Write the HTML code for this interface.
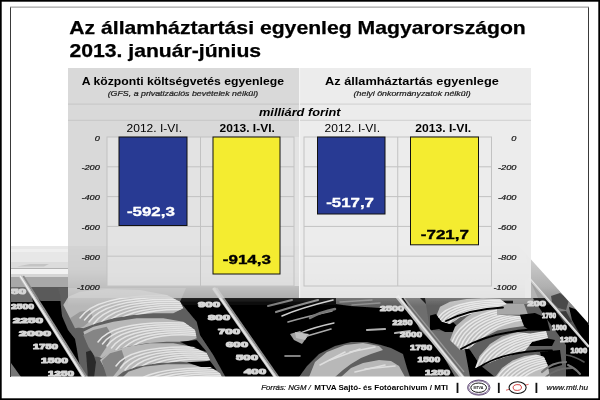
<!DOCTYPE html>
<html><head><meta charset="utf-8"><title>Az államháztartási egyenleg Magyarországon</title>
<style>html,body{margin:0;padding:0;background:#fff;width:600px;height:400px;overflow:hidden}svg{display:block}</style>
</head><body>
<svg width="600" height="400" viewBox="0 0 600 400" font-family="'Liberation Sans', Arial, sans-serif">
<defs>
<filter id="bl" x="0" y="0" width="600" height="400" filterUnits="userSpaceOnUse"><feGaussianBlur stdDeviation="0.45"/></filter>
<clipPath id="pc"><polygon points="10,246 519,246 589,324 589,376.6 10,376.6"/></clipPath>
<linearGradient id="fade" gradientUnits="userSpaceOnUse" x1="0" y1="240" x2="0" y2="306"><stop offset="0" stop-color="#fff" stop-opacity="0.9"/><stop offset="0.45" stop-color="#fff" stop-opacity="0.8"/><stop offset="0.68" stop-color="#fff" stop-opacity="0.55"/><stop offset="0.88" stop-color="#fff" stop-opacity="0.15"/><stop offset="1" stop-color="#fff" stop-opacity="0"/></linearGradient>
<linearGradient id="fr" gradientUnits="userSpaceOnUse" x1="0" y1="262" x2="0" y2="345"><stop offset="0" stop-color="#cacaca"/><stop offset="0.3" stop-color="#b0b0b0"/><stop offset="0.5" stop-color="#8e8e8e"/><stop offset="0.75" stop-color="#555"/><stop offset="1" stop-color="#222"/></linearGradient>
</defs>
<rect width="600" height="400" fill="#fff"/>
<g clip-path="url(#pc)"><g filter="url(#bl)">
<rect x="10" y="240" width="580" height="138" fill="#000"/>
<rect x="10" y="246" width="58" height="16" fill="#e7e7e7"/>
<rect x="10" y="249" width="58" height="3" fill="#efefef"/>
<rect x="10" y="262" width="58" height="6.5" fill="#dcdcdc"/>
<path d="M17,266.6 L30,264 L49,264 L44,266.6 Z" fill="#c4c4c4"/>
<rect x="10" y="268.5" width="58" height="5.5" fill="#f3f3f3"/>
<rect x="10" y="274" width="58" height="3" fill="#d6d6d6"/>
<rect x="10" y="277" width="58" height="10" fill="#a8a8a8"/>
<polygon points="10.0,287.0 30.0,287.0 33.0,302.0 10.0,302.0" fill="#6c6c6c"/>
<polygon points="30.0,287.0 68.0,287.0 68.0,302.0 42.0,302.0 35.0,296.0" fill="#5a5a5a"/>
<polygon points="40.0,301.0 68.0,301.0 68.0,306.0 44.0,306.0" fill="#000"/>
<polygon points="11.0,363.0 21.0,377.0 11.0,377.0" fill="#777"/>
<polygon points="58.0,288.0 60.0,295.0 61.0,307.0 62.0,316.0 68.0,330.0 75.0,339.0 77.0,350.0 79.0,362.0 84.0,378.0 226.0,378.0 213.3,355.0 200.0,335.0 196.7,321.7 180.0,301.7 186.0,288.0" fill="#5e5e5e"/>
<polygon points="86.0,352.0 92.0,350.0 96.0,362.0 94.0,378.0 88.0,378.0" fill="#2a2a2a"/>
<polygon points="63.3,305.0 68.3,296.7 80.0,291.7 106.7,289.0 140.0,290.0 166.7,295.0 180.0,301.7 183.3,308.3 173.3,313.3 153.3,313.3 133.3,315.0 113.3,318.3 96.7,323.3 83.3,328.3 76.7,326.7 70.0,318.3" fill="#b8b8b8"/>
<clipPath id="cl1"><polygon points="63.3,305.0 68.3,296.7 80.0,291.7 106.7,289.0 140.0,290.0 166.7,295.0 180.0,301.7 183.3,308.3 173.3,313.3 153.3,313.3 133.3,315.0 113.3,318.3 96.7,323.3 83.3,328.3 76.7,326.7 70.0,318.3"/></clipPath>
<polygon points="83.3,331.7 93.3,326.7 113.3,321.7 136.7,318.3 163.3,318.3 183.3,321.7 195.0,330.0 196.7,338.3 186.7,341.7 166.7,341.7 146.7,343.3 126.7,346.7 111.7,351.7 101.7,358.3 95.0,355.0 86.7,341.7" fill="#b8b8b8"/>
<clipPath id="cl2"><polygon points="83.3,331.7 93.3,326.7 113.3,321.7 136.7,318.3 163.3,318.3 183.3,321.7 195.0,330.0 196.7,338.3 186.7,341.7 166.7,341.7 146.7,343.3 126.7,346.7 111.7,351.7 101.7,358.3 95.0,355.0 86.7,341.7"/></clipPath>
<polygon points="100.0,360.0 110.0,351.7 126.7,346.7 150.0,343.3 173.3,343.3 193.3,346.7 206.7,353.3 210.0,360.0 200.0,363.3 180.0,361.7 156.7,363.3 136.7,366.7 123.3,371.7 115.0,378.3 108.3,375.0" fill="#b8b8b8"/>
<clipPath id="cl3"><polygon points="100.0,360.0 110.0,351.7 126.7,346.7 150.0,343.3 173.3,343.3 193.3,346.7 206.7,353.3 210.0,360.0 200.0,363.3 180.0,361.7 156.7,363.3 136.7,366.7 123.3,371.7 115.0,378.3 108.3,375.0"/></clipPath>
<polygon points="120.0,380.0 128.3,371.7 143.3,366.7 166.7,364.3 190.0,364.3 210.0,366.7 220.0,373.3 223.3,380.0" fill="#b8b8b8"/>
<clipPath id="cl4"><polygon points="120.0,380.0 128.3,371.7 143.3,366.7 166.7,364.3 190.0,364.3 210.0,366.7 220.0,373.3 223.3,380.0"/></clipPath>
<polygon points="180.0,341.7 196.7,340.0 206.7,351.7 193.3,348.3" fill="#000"/>
<polygon points="186.7,362.3 210.0,361.0 216.7,370.0 200.0,366.7" fill="#000"/>
<polygon points="83.3,335.0 93.3,330.0 106.7,326.7 111.7,335.0 106.7,346.7 100.0,356.7 95.0,356.7 88.3,346.7" fill="#858585"/>
<polygon points="101.7,361.0 110.0,353.3 121.7,350.0 125.0,360.0 118.3,370.0 111.7,378.3 106.7,376.7" fill="#858585"/>
<polygon points="70.0,318.3 80.0,311.7 90.0,310.0 93.3,318.3 83.3,326.7 75.0,328.3" fill="#9a9a9a"/>
<g clip-path="url(#cl1)"><path d="M80.0,318.0 Q98.0,292.0 185.0,296.0" fill="none" stroke="#e4e4e4" stroke-width="1.5" stroke-linecap="round"/><path d="M84.5,320.0 Q102.5,294.0 186.3,298.0" fill="none" stroke="#e4e4e4" stroke-width="1.5" stroke-linecap="round"/><path d="M89.0,322.0 Q107.0,296.0 187.7,300.0" fill="none" stroke="#e4e4e4" stroke-width="1.5" stroke-linecap="round"/><path d="M93.5,324.0 Q111.5,298.0 189.1,302.0" fill="none" stroke="#e4e4e4" stroke-width="1.5" stroke-linecap="round"/><path d="M98.0,326.0 Q116.0,300.0 190.4,304.0" fill="none" stroke="#e4e4e4" stroke-width="1.5" stroke-linecap="round"/><path d="M102.5,328.0 Q120.5,302.0 191.8,306.0" fill="none" stroke="#e4e4e4" stroke-width="1.5" stroke-linecap="round"/><path d="M107.0,330.0 Q125.0,304.0 193.1,308.0" fill="none" stroke="#e4e4e4" stroke-width="1.5" stroke-linecap="round"/><path d="M111.5,332.0 Q129.5,306.0 194.4,310.0" fill="none" stroke="#e4e4e4" stroke-width="1.5" stroke-linecap="round"/></g>
<g clip-path="url(#cl2)"><path d="M98.0,342.0 Q115.0,318.0 198.0,324.0" fill="none" stroke="#e4e4e4" stroke-width="1.5" stroke-linecap="round"/><path d="M102.5,344.0 Q119.5,320.0 199.3,326.0" fill="none" stroke="#e4e4e4" stroke-width="1.5" stroke-linecap="round"/><path d="M107.0,346.0 Q124.0,322.0 200.7,328.0" fill="none" stroke="#e4e4e4" stroke-width="1.5" stroke-linecap="round"/><path d="M111.5,348.0 Q128.5,324.0 202.1,330.0" fill="none" stroke="#e4e4e4" stroke-width="1.5" stroke-linecap="round"/><path d="M116.0,350.0 Q133.0,326.0 203.4,332.0" fill="none" stroke="#e4e4e4" stroke-width="1.5" stroke-linecap="round"/><path d="M120.5,352.0 Q137.5,328.0 204.8,334.0" fill="none" stroke="#e4e4e4" stroke-width="1.5" stroke-linecap="round"/><path d="M125.0,354.0 Q142.0,330.0 206.1,336.0" fill="none" stroke="#e4e4e4" stroke-width="1.5" stroke-linecap="round"/></g>
<g clip-path="url(#cl3)"><path d="M116.0,366.0 Q132.0,343.0 212.0,348.0" fill="none" stroke="#e4e4e4" stroke-width="1.5" stroke-linecap="round"/><path d="M120.5,368.0 Q136.5,345.0 213.3,350.0" fill="none" stroke="#e4e4e4" stroke-width="1.5" stroke-linecap="round"/><path d="M125.0,370.0 Q141.0,347.0 214.7,352.0" fill="none" stroke="#e4e4e4" stroke-width="1.5" stroke-linecap="round"/><path d="M129.5,372.0 Q145.5,349.0 216.1,354.0" fill="none" stroke="#e4e4e4" stroke-width="1.5" stroke-linecap="round"/><path d="M134.0,374.0 Q150.0,351.0 217.4,356.0" fill="none" stroke="#e4e4e4" stroke-width="1.5" stroke-linecap="round"/><path d="M138.5,376.0 Q154.5,353.0 218.8,358.0" fill="none" stroke="#e4e4e4" stroke-width="1.5" stroke-linecap="round"/><path d="M143.0,378.0 Q159.0,355.0 220.1,360.0" fill="none" stroke="#e4e4e4" stroke-width="1.5" stroke-linecap="round"/></g>
<g clip-path="url(#cl4)"><path d="M134.0,384.0 Q150.0,366.0 225.0,368.0" fill="none" stroke="#e4e4e4" stroke-width="1.5" stroke-linecap="round"/><path d="M138.5,386.0 Q154.5,368.0 226.3,370.0" fill="none" stroke="#e4e4e4" stroke-width="1.5" stroke-linecap="round"/><path d="M143.0,388.0 Q159.0,370.0 227.7,372.0" fill="none" stroke="#e4e4e4" stroke-width="1.5" stroke-linecap="round"/><path d="M147.5,390.0 Q163.5,372.0 229.1,374.0" fill="none" stroke="#e4e4e4" stroke-width="1.5" stroke-linecap="round"/><path d="M152.0,392.0 Q168.0,374.0 230.4,376.0" fill="none" stroke="#e4e4e4" stroke-width="1.5" stroke-linecap="round"/></g>
<text x="11" y="309" font-size="8.0" font-weight="bold" fill="#d6d6d6" stroke="#d6d6d6" stroke-width="1.1" stroke-linejoin="round" textLength="23" lengthAdjust="spacingAndGlyphs">2500</text>
<text x="13" y="323" font-size="8.0" font-weight="bold" fill="#d6d6d6" stroke="#d6d6d6" stroke-width="1.1" stroke-linejoin="round" textLength="30" lengthAdjust="spacingAndGlyphs">2250</text>
<text x="19" y="336" font-size="8.0" font-weight="bold" fill="#d6d6d6" stroke="#d6d6d6" stroke-width="1.1" stroke-linejoin="round" textLength="32" lengthAdjust="spacingAndGlyphs">2000</text>
<text x="33" y="349" font-size="8.0" font-weight="bold" fill="#d6d6d6" stroke="#d6d6d6" stroke-width="1.1" stroke-linejoin="round" textLength="25" lengthAdjust="spacingAndGlyphs">1750</text>
<text x="41" y="362.5" font-size="8.0" font-weight="bold" fill="#d6d6d6" stroke="#d6d6d6" stroke-width="1.1" stroke-linejoin="round" textLength="27" lengthAdjust="spacingAndGlyphs">1500</text>
<text x="48" y="375.6" font-size="8.0" font-weight="bold" fill="#d6d6d6" stroke="#d6d6d6" stroke-width="1.1" stroke-linejoin="round" textLength="26" lengthAdjust="spacingAndGlyphs">1250</text>
<text x="11" y="294" font-size="8.0" font-weight="bold" fill="#d6d6d6" stroke="#d6d6d6" stroke-width="1.1" stroke-linejoin="round" textLength="15" lengthAdjust="spacingAndGlyphs">50</text>
<line x1="20.5" y1="276" x2="84" y2="377" stroke="#c4c4c4" stroke-width="3.6"/>
<line x1="23.3" y1="276" x2="86.8" y2="377" stroke="#8a8a8a" stroke-width="1.6"/>
<line x1="20.1" y1="276" x2="83.6" y2="377" stroke="#f0f0f0" stroke-width="1.4"/>
<text x="198" y="307" font-size="8.0" font-weight="bold" fill="#d6d6d6" stroke="#d6d6d6" stroke-width="1.1" stroke-linejoin="round" textLength="22" lengthAdjust="spacingAndGlyphs">900</text>
<text x="208" y="320" font-size="8.0" font-weight="bold" fill="#d6d6d6" stroke="#d6d6d6" stroke-width="1.1" stroke-linejoin="round" textLength="22" lengthAdjust="spacingAndGlyphs">800</text>
<text x="218" y="334" font-size="8.0" font-weight="bold" fill="#d6d6d6" stroke="#d6d6d6" stroke-width="1.1" stroke-linejoin="round" textLength="22" lengthAdjust="spacingAndGlyphs">700</text>
<text x="226" y="347" font-size="8.0" font-weight="bold" fill="#d6d6d6" stroke="#d6d6d6" stroke-width="1.1" stroke-linejoin="round" textLength="22" lengthAdjust="spacingAndGlyphs">600</text>
<text x="236" y="360" font-size="8.0" font-weight="bold" fill="#d6d6d6" stroke="#d6d6d6" stroke-width="1.1" stroke-linejoin="round" textLength="22" lengthAdjust="spacingAndGlyphs">500</text>
<text x="244" y="374" font-size="8.0" font-weight="bold" fill="#d6d6d6" stroke="#d6d6d6" stroke-width="1.1" stroke-linejoin="round" textLength="22" lengthAdjust="spacingAndGlyphs">400</text>
<line x1="213.6" y1="288" x2="276.3" y2="378" stroke="#c2c2c2" stroke-width="3.6"/>
<line x1="216.4" y1="288" x2="279.1" y2="378" stroke="#8a8a8a" stroke-width="1.6"/>
<line x1="213.2" y1="288" x2="275.9" y2="378" stroke="#e6e6e6" stroke-width="1.4"/>
<path d="M282,316 Q300,308 333,300" fill="none" stroke="#d0d0d0" stroke-width="1.6" stroke-linecap="round"/>
<path d="M276,312 Q295,306 318,300" fill="none" stroke="#8a8a8a" stroke-width="2.2" stroke-linecap="round"/>
<path d="M288,322 Q305,317 332,311" fill="none" stroke="#9a9a9a" stroke-width="1.6" stroke-linecap="round"/>
<path d="M300,333 Q315,327 334,323" fill="none" stroke="#c8c8c8" stroke-width="1.3" stroke-linecap="round"/>
<path d="M268,306 Q280,303 292,300" fill="none" stroke="#7a7a7a" stroke-width="2.0" stroke-linecap="round"/>
<path d="M310,318 Q320,312 335,309" fill="none" stroke="#777" stroke-width="2.5" stroke-linecap="round"/>
<polygon points="290.0,334.0 300.0,331.0 307.0,337.0 302.0,344.0 294.0,340.0" fill="#a0a0a0"/>
<polygon points="295.0,332.0 309.0,334.0 305.0,340.0 296.0,338.0" fill="#c0c0c0"/>
<line x1="307" y1="336" x2="331" y2="329" stroke="#aaa" stroke-width="1.6" stroke-linecap="round"/>
<line x1="285" y1="356" x2="300" y2="356" stroke="#aaa" stroke-width="1.6" stroke-linecap="round"/>
<polygon points="299.0,377.0 307.0,366.0 319.0,354.0 335.0,346.0 351.0,342.0 367.0,342.0 381.0,345.0 391.0,348.0 403.0,354.0 407.0,368.0 410.0,377.0" fill="#5e5e5e"/>
<polygon points="309.0,377.0 315.0,362.0 327.0,352.0 345.0,345.0 363.0,343.0 379.0,346.0 383.0,350.0 371.0,354.0 361.0,358.0 351.0,364.0 343.0,370.0 335.0,377.0" fill="#b8b8b8"/>
<polygon points="341.0,377.0 351.0,368.0 363.0,363.0 379.0,360.0 391.0,361.0 399.0,366.0 405.0,377.0" fill="#b8b8b8"/>
<line x1="320" y1="365" x2="345" y2="352" stroke="#dedede" stroke-width="1.6" stroke-linecap="round"/>
<line x1="330" y1="360" x2="360" y2="349" stroke="#dedede" stroke-width="1.6" stroke-linecap="round"/>
<line x1="350" y1="352" x2="375" y2="347" stroke="#dedede" stroke-width="1.6" stroke-linecap="round"/>
<line x1="355" y1="372" x2="385" y2="365" stroke="#dedede" stroke-width="1.6" stroke-linecap="round"/>
<line x1="365" y1="369" x2="395" y2="366" stroke="#dedede" stroke-width="1.6" stroke-linecap="round"/>
<polygon points="336.0,298.0 402.0,298.0 402.0,307.0 380.0,308.0 350.0,306.0 336.0,304.0" fill="#5e5e5e"/>
<line x1="340" y1="302" x2="372" y2="300" stroke="#8c8c8c" stroke-width="1.4" stroke-linecap="round"/>
<line x1="352" y1="305" x2="380" y2="303" stroke="#8c8c8c" stroke-width="1.4" stroke-linecap="round"/>
<line x1="367" y1="330" x2="385" y2="329" stroke="#b0b0b0" stroke-width="2.2" stroke-linecap="round"/>
<line x1="395" y1="333" x2="410" y2="331" stroke="#b0b0b0" stroke-width="2.2" stroke-linecap="round"/>
<text x="380" y="311" font-size="8.0" font-weight="bold" fill="#d6d6d6" stroke="#d6d6d6" stroke-width="1.1" stroke-linejoin="round" textLength="24" lengthAdjust="spacingAndGlyphs">2500</text>
<text x="392.5" y="325" font-size="8.0" font-weight="bold" fill="#d6d6d6" stroke="#d6d6d6" stroke-width="1.1" stroke-linejoin="round" textLength="20.0" lengthAdjust="spacingAndGlyphs">2250</text>
<text x="400" y="337" font-size="8.0" font-weight="bold" fill="#d6d6d6" stroke="#d6d6d6" stroke-width="1.1" stroke-linejoin="round" textLength="22" lengthAdjust="spacingAndGlyphs">2000</text>
<text x="410" y="349.5" font-size="8.0" font-weight="bold" fill="#d6d6d6" stroke="#d6d6d6" stroke-width="1.1" stroke-linejoin="round" textLength="22" lengthAdjust="spacingAndGlyphs">1750</text>
<text x="417.5" y="362" font-size="8.0" font-weight="bold" fill="#d6d6d6" stroke="#d6d6d6" stroke-width="1.1" stroke-linejoin="round" textLength="22.5" lengthAdjust="spacingAndGlyphs">1500</text>
<text x="425" y="374.5" font-size="8.0" font-weight="bold" fill="#d6d6d6" stroke="#d6d6d6" stroke-width="1.1" stroke-linejoin="round" textLength="25" lengthAdjust="spacingAndGlyphs">1250</text>
<polygon points="404.0,298.0 420.0,298.0 436.0,314.0 455.0,330.0 465.0,350.0 470.0,377.0 455.0,377.0 440.0,350.0 420.0,330.0" fill="#6e6e6e"/>
<polygon points="425.0,298.0 533.0,298.0 546.0,318.0 566.0,345.0 566.0,377.0 495.0,377.0 480.0,365.0 470.0,350.0 452.0,332.0 430.0,330.0" fill="#5e5e5e"/>
<polygon points="480.0,298.5 533.0,298.5 533.0,304.0 480.0,304.0" fill="#8a8a8a"/>
<polygon points="500.0,300.7 513.0,300.7 513.0,303.3 500.0,303.3" fill="#000"/>
<polygon points="497.0,304.0 524.0,304.0 528.0,314.7 497.0,314.7" fill="#a8a8a8"/>
<polygon points="430.0,315.5 436.0,314.0 442.0,321.5 451.0,320.0 457.0,326.0 452.5,332.0 445.0,332.0 439.0,329.0 430.0,330.5" fill="#000"/>
<polygon points="520.0,314.7 535.0,313.0 546.7,318.0 550.0,330.7 530.0,330.7 522.0,325.0" fill="#000"/>
<polygon points="520.0,338.7 540.0,337.0 555.0,340.0 552.0,346.0 530.0,346.0" fill="#000"/>
<polygon points="540.0,352.0 560.0,350.0 562.0,365.0 545.0,370.0" fill="#000"/>
<polygon points="566.0,353.0 590.0,353.0 590.0,378.0 566.0,378.0" fill="#000"/>
<polygon points="436.7,315.0 440.0,306.7 450.0,301.7 466.7,299.0 483.3,298.3 500.0,299.0 506.7,304.0 493.3,309.0 476.7,312.3 460.0,317.3 450.0,324.0 441.7,321.7" fill="#bdbdbd"/>
<clipPath id="cr1"><polygon points="436.7,315.0 440.0,306.7 450.0,301.7 466.7,299.0 483.3,298.3 500.0,299.0 506.7,304.0 493.3,309.0 476.7,312.3 460.0,317.3 450.0,324.0 441.7,321.7"/></clipPath>
<polygon points="450.0,340.0 455.0,326.7 466.7,316.7 480.0,309.0 497.0,304.0 497.0,314.7 520.0,316.0 524.0,326.0 510.0,328.0 497.5,330.5 482.5,338.0 469.0,348.5 460.0,350.0" fill="#bdbdbd"/>
<clipPath id="cr2"><polygon points="450.0,340.0 455.0,326.7 466.7,316.7 480.0,309.0 497.0,304.0 497.0,314.7 520.0,316.0 524.0,326.0 510.0,328.0 497.5,330.5 482.5,338.0 469.0,348.5 460.0,350.0"/></clipPath>
<polygon points="475.0,368.0 479.5,356.0 490.0,344.0 502.0,336.5 517.0,332.0 530.5,333.5 546.0,331.0 548.0,338.0 532.0,342.0 524.5,351.5 514.0,354.5 499.0,359.0 484.0,365.0" fill="#bdbdbd"/>
<clipPath id="cr3"><polygon points="475.0,368.0 479.5,356.0 490.0,344.0 502.0,336.5 517.0,332.0 530.5,333.5 546.0,331.0 548.0,338.0 532.0,342.0 524.5,351.5 514.0,354.5 499.0,359.0 484.0,365.0"/></clipPath>
<polygon points="494.5,378.0 502.0,368.0 512.5,360.5 524.5,356.0 536.0,354.5 544.0,357.0 548.0,366.0 550.0,378.0" fill="#bdbdbd"/>
<clipPath id="cr4"><polygon points="494.5,378.0 502.0,368.0 512.5,360.5 524.5,356.0 536.0,354.5 544.0,357.0 548.0,366.0 550.0,378.0"/></clipPath>
<g clip-path="url(#cr1)"><path d="M438.0,318.0 Q450.0,300.0 505.0,300.0" fill="none" stroke="#e8e8e8" stroke-width="1.5" stroke-linecap="round"/><path d="M440.4,319.7 Q452.4,301.7 506.0,301.7" fill="none" stroke="#e8e8e8" stroke-width="1.5" stroke-linecap="round"/><path d="M442.8,321.4 Q454.8,303.4 506.9,303.4" fill="none" stroke="#e8e8e8" stroke-width="1.5" stroke-linecap="round"/><path d="M445.2,323.1 Q457.2,305.1 507.9,305.1" fill="none" stroke="#e8e8e8" stroke-width="1.5" stroke-linecap="round"/><path d="M447.6,324.8 Q459.6,306.8 508.8,306.8" fill="none" stroke="#e8e8e8" stroke-width="1.5" stroke-linecap="round"/><path d="M450.0,326.5 Q462.0,308.5 509.8,308.5" fill="none" stroke="#e8e8e8" stroke-width="1.5" stroke-linecap="round"/></g>
<g clip-path="url(#cr2)"><path d="M452.0,342.0 Q464.0,310.0 525.0,306.0" fill="none" stroke="#e8e8e8" stroke-width="1.5" stroke-linecap="round"/><path d="M454.8,343.8 Q466.8,311.8 526.1,307.8" fill="none" stroke="#e8e8e8" stroke-width="1.5" stroke-linecap="round"/><path d="M457.6,345.6 Q469.6,313.6 527.2,309.6" fill="none" stroke="#e8e8e8" stroke-width="1.5" stroke-linecap="round"/><path d="M460.4,347.4 Q472.4,315.4 528.4,311.4" fill="none" stroke="#e8e8e8" stroke-width="1.5" stroke-linecap="round"/><path d="M463.2,349.2 Q475.2,317.2 529.5,313.2" fill="none" stroke="#e8e8e8" stroke-width="1.5" stroke-linecap="round"/><path d="M466.0,351.0 Q478.0,319.0 530.6,315.0" fill="none" stroke="#e8e8e8" stroke-width="1.5" stroke-linecap="round"/><path d="M468.8,352.8 Q480.8,320.8 531.7,316.8" fill="none" stroke="#e8e8e8" stroke-width="1.5" stroke-linecap="round"/><path d="M471.6,354.6 Q483.6,322.6 532.8,318.6" fill="none" stroke="#e8e8e8" stroke-width="1.5" stroke-linecap="round"/></g>
<g clip-path="url(#cr3)"><path d="M476.0,368.0 Q487.0,336.0 546.0,330.0" fill="none" stroke="#e8e8e8" stroke-width="1.5" stroke-linecap="round"/><path d="M478.8,369.8 Q489.8,337.8 547.1,331.8" fill="none" stroke="#e8e8e8" stroke-width="1.5" stroke-linecap="round"/><path d="M481.6,371.6 Q492.6,339.6 548.2,333.6" fill="none" stroke="#e8e8e8" stroke-width="1.5" stroke-linecap="round"/><path d="M484.4,373.4 Q495.4,341.4 549.4,335.4" fill="none" stroke="#e8e8e8" stroke-width="1.5" stroke-linecap="round"/><path d="M487.2,375.2 Q498.2,343.2 550.5,337.2" fill="none" stroke="#e8e8e8" stroke-width="1.5" stroke-linecap="round"/><path d="M490.0,377.0 Q501.0,345.0 551.6,339.0" fill="none" stroke="#e8e8e8" stroke-width="1.5" stroke-linecap="round"/><path d="M492.8,378.8 Q503.8,346.8 552.7,340.8" fill="none" stroke="#e8e8e8" stroke-width="1.5" stroke-linecap="round"/><path d="M495.6,380.6 Q506.6,348.6 553.8,342.6" fill="none" stroke="#e8e8e8" stroke-width="1.5" stroke-linecap="round"/></g>
<g clip-path="url(#cr4)"><path d="M496.0,380.0 Q508.0,356.0 558.0,353.0" fill="none" stroke="#e8e8e8" stroke-width="1.5" stroke-linecap="round"/><path d="M498.8,381.8 Q510.8,357.8 559.1,354.8" fill="none" stroke="#e8e8e8" stroke-width="1.5" stroke-linecap="round"/><path d="M501.6,383.6 Q513.6,359.6 560.2,356.6" fill="none" stroke="#e8e8e8" stroke-width="1.5" stroke-linecap="round"/><path d="M504.4,385.4 Q516.4,361.4 561.4,358.4" fill="none" stroke="#e8e8e8" stroke-width="1.5" stroke-linecap="round"/><path d="M507.2,387.2 Q519.2,363.2 562.5,360.2" fill="none" stroke="#e8e8e8" stroke-width="1.5" stroke-linecap="round"/><path d="M510.0,389.0 Q522.0,365.0 563.6,362.0" fill="none" stroke="#e8e8e8" stroke-width="1.5" stroke-linecap="round"/><path d="M512.8,390.8 Q524.8,366.8 564.7,363.8" fill="none" stroke="#e8e8e8" stroke-width="1.5" stroke-linecap="round"/></g>
<path d="M542,372 Q552,362 566,362" fill="none" stroke="#7a7a7a" stroke-width="2.2" stroke-linecap="round"/>
<path d="M546,377 Q556,368 572,368" fill="none" stroke="#6a6a6a" stroke-width="1.8" stroke-linecap="round"/>
<path d="M568,365 Q575,368 580,374" fill="none" stroke="#777" stroke-width="2.0" stroke-linecap="round"/>
<path d="M566,355 Q574,356 584,362" fill="none" stroke="#555" stroke-width="1.6" stroke-linecap="round"/>
<path d="M446,321 Q470,309 503,307.5" fill="none" stroke="#000" stroke-width="1.8" stroke-linecap="round"/>
<path d="M461,349 Q488,333 531,329.5" fill="none" stroke="#000" stroke-width="1.8" stroke-linecap="round"/>
<path d="M478,368 Q505,350 552,350.5" fill="none" stroke="#000" stroke-width="1.8" stroke-linecap="round"/>
<line x1="397" y1="296" x2="463" y2="378" stroke="#c0c0c0" stroke-width="4.2"/>
<line x1="397.8" y1="296" x2="463.8" y2="378" stroke="#e8e8e8" stroke-width="1.3"/>
<line x1="404" y1="298" x2="464" y2="372" stroke="#9a9a9a" stroke-width="1.2"/>
<text x="527.5" y="306" font-size="8.0" font-weight="bold" fill="#d6d6d6" stroke="#d6d6d6" stroke-width="1.1" stroke-linejoin="round" textLength="18.5" lengthAdjust="spacingAndGlyphs">200</text>
<text x="542" y="317.5" font-size="8.0" font-weight="bold" fill="#d6d6d6" stroke="#d6d6d6" stroke-width="1.1" stroke-linejoin="round" textLength="14" lengthAdjust="spacingAndGlyphs">1750</text>
<text x="552" y="330" font-size="8.0" font-weight="bold" fill="#d6d6d6" stroke="#d6d6d6" stroke-width="1.1" stroke-linejoin="round" textLength="14.5" lengthAdjust="spacingAndGlyphs">1500</text>
<text x="560" y="342" font-size="8.0" font-weight="bold" fill="#d6d6d6" stroke="#d6d6d6" stroke-width="1.1" stroke-linejoin="round" textLength="17" lengthAdjust="spacingAndGlyphs">1250</text>
<text x="570.5" y="353.4" font-size="8.0" font-weight="bold" fill="#d6d6d6" stroke="#d6d6d6" stroke-width="1.1" stroke-linejoin="round" textLength="16.5" lengthAdjust="spacingAndGlyphs">1000</text>
<rect x="68" y="240" width="522" height="66" fill="url(#fade)"/>
<polygon points="519,246 589,324 589,347 529,278 525,246" fill="url(#fr)"/>
<polygon points="551.0,296.0 560.0,293.0 569.0,300.0 566.0,310.0 558.0,308.0 552.0,302.0" fill="#4a4a4a"/>
<polygon points="569.0,307.0 578.0,310.0 589.0,322.0 589.0,347.0 582.0,338.0 572.0,320.0" fill="#000"/>
<polygon points="556.0,312.0 566.0,311.0 572.0,322.0 565.0,324.0" fill="#3a3a3a"/>
<polygon points="525.0,278.0 529.0,278.0 546.0,298.0 525.0,298.0" fill="#b4b4b4"/>
<polygon points="546.0,298.0 529.0,278.0 538.0,298.0" fill="#a0a0a0"/>
<line x1="529" y1="278" x2="589" y2="347" stroke="#cdcdcd" stroke-width="2.6"/>
<line x1="529.6" y1="278" x2="589.6" y2="347" stroke="#f0f0f0" stroke-width="0.8"/>

</g></g>
<rect x="10" y="7" width="1" height="370" fill="#3a3a3a"/>
<rect x="588" y="7" width="1" height="318" fill="#3a3a3a"/>
<rect x="10" y="6.6" width="579" height="1" fill="#8e8e8e"/>
<rect x="0" y="0" width="600" height="400" fill="none" stroke="#000" stroke-width="3.4"/>
<rect x="68" y="68" width="231" height="230" fill="#cfcfcf" fill-opacity="0.8"/>
<rect x="300" y="68" width="231" height="230" fill="#ebebeb" fill-opacity="0.96"/>
<rect x="299" y="68" width="1.2" height="230" fill="#f4f4f4"/>
<rect x="68" y="103.6" width="231" height="1" fill="#c6c6c6"/>
<rect x="68" y="119.8" width="231" height="1" fill="#c6c6c6"/>
<rect x="300" y="103.6" width="231" height="1" fill="#cfcfcf"/>
<rect x="300" y="119.8" width="231" height="1" fill="#cfcfcf"/>
<rect x="107" y="137" width="192" height="149" fill="#e6e6e6" fill-opacity="0.75"/>
<rect x="107" y="137" width="187" height="149" fill="none" stroke="#c2c2c2" stroke-width="1"/>
<line x1="200.5" y1="137" x2="200.5" y2="286" stroke="#c2c2c2" stroke-width="1"/>
<line x1="107" y1="166.8" x2="294" y2="166.8" stroke="#c2c2c2" stroke-width="1"/>
<line x1="107" y1="196.6" x2="294" y2="196.6" stroke="#c2c2c2" stroke-width="1"/>
<line x1="107" y1="226.4" x2="294" y2="226.4" stroke="#c2c2c2" stroke-width="1"/>
<line x1="107" y1="256.2" x2="294" y2="256.2" stroke="#c2c2c2" stroke-width="1"/>
<rect x="304" y="137" width="187.5" height="149" fill="none" stroke="#c2c2c2" stroke-width="1"/>
<line x1="397.75" y1="137" x2="397.75" y2="286" stroke="#c2c2c2" stroke-width="1"/>
<line x1="304" y1="166.8" x2="491.5" y2="166.8" stroke="#c2c2c2" stroke-width="1"/>
<line x1="304" y1="196.6" x2="491.5" y2="196.6" stroke="#c2c2c2" stroke-width="1"/>
<line x1="304" y1="226.4" x2="491.5" y2="226.4" stroke="#c2c2c2" stroke-width="1"/>
<line x1="304" y1="256.2" x2="491.5" y2="256.2" stroke="#c2c2c2" stroke-width="1"/>
<rect x="119" y="137" width="68" height="88.5" fill="#283a93" stroke="#111" stroke-width="1"/>
<rect x="213" y="137" width="67" height="137" fill="#f4ec30" stroke="#111" stroke-width="1"/>
<rect x="317.5" y="137" width="67.5" height="77" fill="#283a93" stroke="#111" stroke-width="1"/>
<rect x="410.5" y="137" width="68.0" height="107.80000000000001" fill="#f4ec30" stroke="#111" stroke-width="1"/>
<g font-family="'Liberation Sans', Arial, sans-serif">
<text x="69.3" y="34.2" font-size="18.2" fill="#000" font-weight="bold" textLength="456.5" lengthAdjust="spacingAndGlyphs" stroke="#000" stroke-width="0.25">Az államháztartási egyenleg Magyarországon</text>
<text x="69.5" y="56.7" font-size="18.2" fill="#000" font-weight="bold" textLength="191.6" lengthAdjust="spacingAndGlyphs" stroke="#000" stroke-width="0.25">2013. január-június</text>
<text x="81.7" y="84.75" font-size="11.4" fill="#000" font-weight="bold" textLength="202.3" lengthAdjust="spacingAndGlyphs">A központi költségvetés egyenlege</text>
<text x="325" y="84.8" font-size="11.3" fill="#000" font-weight="bold" textLength="173.8" lengthAdjust="spacingAndGlyphs">Az államháztartás egyenlege</text>
<text x="107.7" y="95.8" font-size="7.5" fill="#1a1a1a" font-style="italic" textLength="150.4" lengthAdjust="spacingAndGlyphs" stroke="#1a1a1a" stroke-width="0.2">(GFS, a privatizációs bevételek nélkül)</text>
<text x="353.6" y="95.8" font-size="7.5" fill="#1a1a1a" font-style="italic" textLength="117" lengthAdjust="spacingAndGlyphs" stroke="#1a1a1a" stroke-width="0.2">(helyi önkormányzatok nélkül)</text>
<text x="259" y="116.2" font-size="10.4" fill="#000" font-weight="bold" font-style="italic" textLength="81.6" lengthAdjust="spacingAndGlyphs">milliárd forint</text>
<text x="126.6" y="132.3" font-size="10.3" fill="#000" textLength="55.4" lengthAdjust="spacingAndGlyphs">2012. I-VI.</text>
<text x="219.6" y="132.3" font-size="10.4" fill="#000" font-weight="bold" textLength="55.2" lengthAdjust="spacingAndGlyphs">2013. I-VI.</text>
<text x="324.6" y="132.3" font-size="10.3" fill="#000" textLength="55.4" lengthAdjust="spacingAndGlyphs">2012. I-VI.</text>
<text x="415.2" y="132.3" font-size="10.4" fill="#000" font-weight="bold" textLength="56.0" lengthAdjust="spacingAndGlyphs">2013. I-VI.</text>
<text x="126.9" y="216" font-size="13.4" fill="#fff" font-weight="bold" textLength="48.0" lengthAdjust="spacingAndGlyphs" stroke="#fff" stroke-width="0.35">-592,3</text>
<text x="222.8" y="264" font-size="13.4" fill="#000" font-weight="bold" textLength="48.2" lengthAdjust="spacingAndGlyphs" stroke="#000" stroke-width="0.35">-914,3</text>
<text x="326.2" y="206.5" font-size="13.4" fill="#fff" font-weight="bold" textLength="47.8" lengthAdjust="spacingAndGlyphs" stroke="#fff" stroke-width="0.35">-517,7</text>
<text x="420.8" y="238.9" font-size="13.4" fill="#000" font-weight="bold" textLength="48.2" lengthAdjust="spacingAndGlyphs" stroke="#000" stroke-width="0.35">-721,7</text>
<text x="99.8" y="140.5" font-size="7.6" fill="#111" font-style="italic" textLength="5.1" lengthAdjust="spacingAndGlyphs" text-anchor="end" stroke="#111" stroke-width="0.2">0</text>
<text x="516.4" y="140.5" font-size="7.6" fill="#111" font-style="italic" textLength="5.1" lengthAdjust="spacingAndGlyphs" text-anchor="end" stroke="#111" stroke-width="0.2">0</text>
<text x="99.8" y="170.3" font-size="7.6" fill="#111" font-style="italic" textLength="18.4" lengthAdjust="spacingAndGlyphs" text-anchor="end" stroke="#111" stroke-width="0.2">-200</text>
<text x="516.4" y="170.3" font-size="7.6" fill="#111" font-style="italic" textLength="18.4" lengthAdjust="spacingAndGlyphs" text-anchor="end" stroke="#111" stroke-width="0.2">-200</text>
<text x="99.8" y="200.1" font-size="7.6" fill="#111" font-style="italic" textLength="18.4" lengthAdjust="spacingAndGlyphs" text-anchor="end" stroke="#111" stroke-width="0.2">-400</text>
<text x="516.4" y="200.1" font-size="7.6" fill="#111" font-style="italic" textLength="18.4" lengthAdjust="spacingAndGlyphs" text-anchor="end" stroke="#111" stroke-width="0.2">-400</text>
<text x="99.8" y="229.9" font-size="7.6" fill="#111" font-style="italic" textLength="18.4" lengthAdjust="spacingAndGlyphs" text-anchor="end" stroke="#111" stroke-width="0.2">-600</text>
<text x="516.4" y="229.9" font-size="7.6" fill="#111" font-style="italic" textLength="18.4" lengthAdjust="spacingAndGlyphs" text-anchor="end" stroke="#111" stroke-width="0.2">-600</text>
<text x="99.8" y="259.7" font-size="7.6" fill="#111" font-style="italic" textLength="18.4" lengthAdjust="spacingAndGlyphs" text-anchor="end" stroke="#111" stroke-width="0.2">-800</text>
<text x="516.4" y="259.7" font-size="7.6" fill="#111" font-style="italic" textLength="18.4" lengthAdjust="spacingAndGlyphs" text-anchor="end" stroke="#111" stroke-width="0.2">-800</text>
<text x="99.8" y="289.5" font-size="7.6" fill="#111" font-style="italic" textLength="22.9" lengthAdjust="spacingAndGlyphs" text-anchor="end" stroke="#111" stroke-width="0.2">-1000</text>
<text x="516.4" y="289.5" font-size="7.6" fill="#111" font-style="italic" textLength="22.9" lengthAdjust="spacingAndGlyphs" text-anchor="end" stroke="#111" stroke-width="0.2">-1000</text>
<text x="261.2" y="390.3" font-size="7.5" fill="#111" font-style="italic" textLength="49.6" lengthAdjust="spacingAndGlyphs" stroke="#111" stroke-width="0.2">Forrás: NGM /</text>
<text x="314.3" y="390.3" font-size="7.5" fill="#000" font-weight="bold" textLength="133.8" lengthAdjust="spacingAndGlyphs">MTVA Sajtó- és Fotóarchívum / MTI</text>
<text x="546.6" y="390.2" font-size="7.5" fill="#111" font-style="italic" textLength="41.4" lengthAdjust="spacingAndGlyphs" stroke="#111" stroke-width="0.2">www.mti.hu</text>
</g>
<rect x="456.6" y="382.8" width="1.8" height="10.2" fill="#111"/>
<rect x="497.90000000000003" y="382.8" width="1.8" height="10.2" fill="#111"/>
<rect x="535.5" y="382.8" width="1.8" height="10.2" fill="#111"/>
<ellipse cx="478.75" cy="387.6" rx="11.2" ry="7.55" fill="none" stroke="#3c2256" stroke-width="0.8"/>
<ellipse cx="478.75" cy="387.6" rx="10.1" ry="6.7" fill="none" stroke="#4a2c66" stroke-width="0.65"/>
<ellipse cx="478.65" cy="387.7" rx="7.85" ry="4.7" fill="#fff" stroke="#111" stroke-width="0.95"/>
<text x="478.4" y="388.75" font-size="2.9" font-weight="bold" text-anchor="middle" fill="#222" textLength="10" lengthAdjust="spacingAndGlyphs">MTVA</text>
<line x1="506" y1="390.2" x2="528.6" y2="384.3" stroke="#d83a3a" stroke-width="0.8"/>
<ellipse cx="517.6" cy="387.6" rx="8.55" ry="5.85" fill="#fff" stroke="#111" stroke-width="1.05"/>
<ellipse cx="517.3" cy="387.5" rx="4.2" ry="2.95" fill="none" stroke="#cf3535" stroke-width="0.85" transform="rotate(-8 517.3 387.5)"/>
</svg>
</body></html>
